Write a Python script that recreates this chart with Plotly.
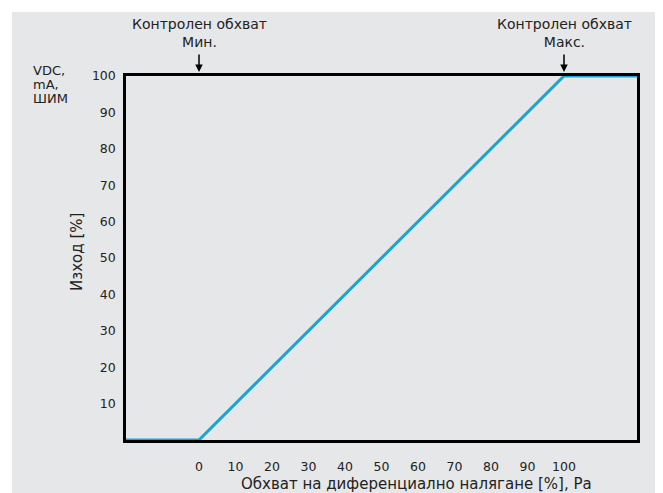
import plotly.graph_objects as go

# Data
x_vals = [-20, 0, 100, 120]
y_vals = [0, 0, 100, 100]
x_ticks = [0, 10, 20, 30, 40, 50, 60, 70, 80, 90, 100]
y_ticks = [10, 20, 30, 40, 50, 60, 70, 80, 90, 100]
x_title = "Обхват на диференциално налягане [%], Ра"
y_title = "Изход [%]"
unit_lines = ["VDC,", "mA,", "ШИМ"]
min_label = "Контролен обхват<br>Мин."
max_label = "Контролен обхват<br>Макс."

FONT = "DejaVu Sans"
TXT = "#222222"
BG = "#e6e7e8"
BLUE = "#1ba3d1"

OFF = 8  # page body margin
W, H = 655, 485
L, R, T, B = 118, 26, 68, 53
pw, ph = W - L - R, H - T - B


def px(xp):
    return (xp - OFF - L) / pw


def py(yp):
    return (H - B - (yp - OFF)) / ph


fig = go.Figure()
fig.add_trace(go.Scatter(x=x_vals, y=y_vals, mode="lines",
                         line=dict(color=BLUE, width=3), showlegend=False,
                         hoverinfo="skip"))

fig.add_shape(type="rect", xref="paper", yref="paper",
              x0=px(12), x1=px(680), y0=py(510), y1=py(12),
              fillcolor=BG, line=dict(width=0), layer="below")

fig.update_xaxes(range=[-20, 120], tickvals=x_ticks, showgrid=False, zeroline=False,
                 showline=True, mirror=True, linecolor="black", linewidth=2.5,
                 ticks="", ticklabelstandoff=13, layer="below traces",
                 tickfont=dict(family=FONT, size=12.5, color=TXT))
fig.update_yaxes(range=[0, 100], tickvals=y_ticks, showgrid=False, zeroline=False,
                 showline=True, mirror=True, linecolor="black", linewidth=2.5,
                 ticks="", ticklabelstandoff=5, layer="below traces",
                 tickfont=dict(family=FONT, size=12.5, color=TXT))

ann = []
ann.append(dict(text=x_title, xref="paper", yref="paper", x=px(416), y=py(484),
                showarrow=False, xanchor="center", yanchor="middle",
                font=dict(family=FONT, size=15, color=TXT)))
ann.append(dict(text=y_title, xref="paper", yref="paper", x=px(77), y=py(252),
                showarrow=False, xanchor="center", yanchor="middle", textangle=-90,
                font=dict(family=FONT, size=15, color=TXT)))
for i, t in enumerate(unit_lines):
    ann.append(dict(text=t, xref="paper", yref="paper", x=px(31), y=py(70 + 14 * i),
                    showarrow=False, xanchor="left", yanchor="middle", align="left",
                    font=dict(family=FONT, size=13, color=TXT)))
for xv, lab in [(0, min_label), (100, max_label)]:
    ann.append(dict(text=lab, xref="x", yref="paper", x=xv, y=py(33),
                    showarrow=False, xanchor="center", yanchor="middle",
                    font=dict(family=FONT, size=14, color=TXT)))
    ann.append(dict(text="", xref="x", yref="y", x=xv, y=100,
                    showarrow=True, arrowhead=2, arrowsize=1, arrowwidth=1.5,
                    arrowcolor="black", ax=0, ay=-23, standoff=4))
fig.update_layout(annotations=ann, width=W, height=H,
                  margin=dict(l=L, r=R, t=T, b=B),
                  paper_bgcolor="white", plot_bgcolor=BG,
                  font=dict(family=FONT, color=TXT))

fig.write_html("out.html")
